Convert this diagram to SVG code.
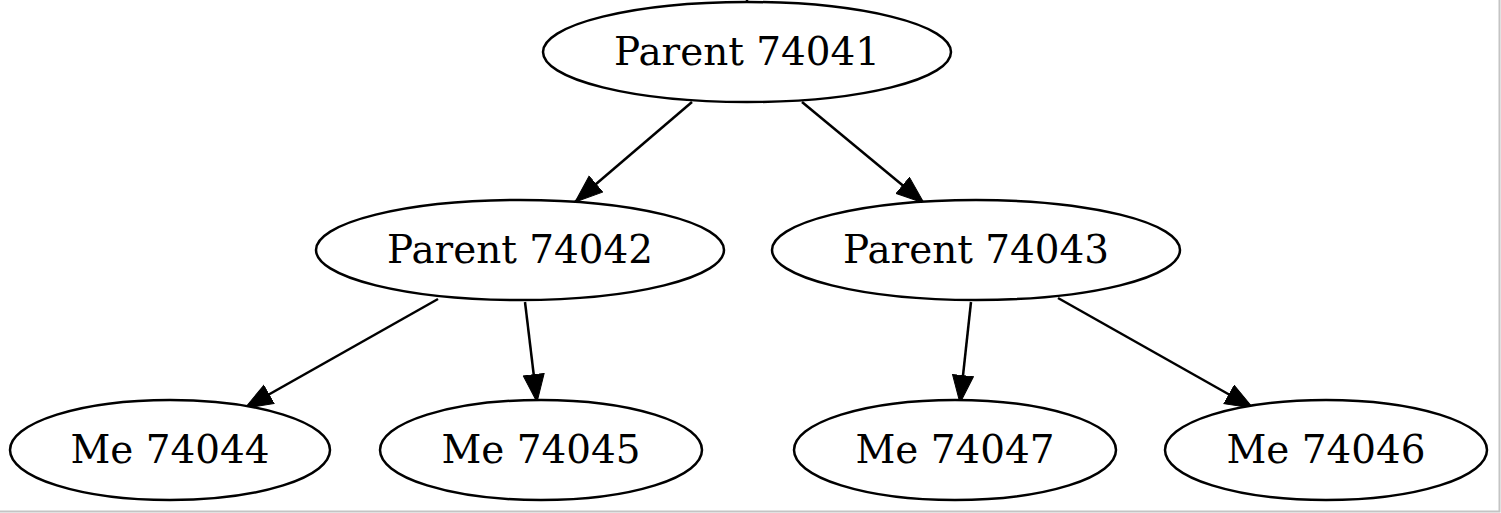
<svg xmlns="http://www.w3.org/2000/svg" width="1501" height="513" viewBox="0 0 1501 513">
<style>
.node ellipse{fill:#fff;stroke:#000;stroke-width:2.5}
.node text{font-family:"DejaVu Serif",serif;font-size:38.9px;text-anchor:middle;fill:#000}
.edge line{stroke:#000;stroke-width:2.5}
</style>
<defs>
<marker id="arr" markerUnits="userSpaceOnUse" markerWidth="30" markerHeight="24" refX="28" refY="11" orient="auto">
<polygon points="0.5,0.5 28,11 0.5,21.5" fill="#000" stroke="#000" stroke-width="1"/>
</marker>
</defs>
<rect x="0" y="0" width="1501" height="513" fill="#fff"/>
<path d="M0,511.5 H1499.5 V0" fill="none" stroke="#c4c4c4" stroke-width="2"/>
<g id="edges" class="edge">
<line x1="747" y1="0" x2="747" y2="4"/>
<line x1="692" y1="102" x2="575" y2="202" marker-end="url(#arr)"/>
<line x1="802" y1="102" x2="924" y2="203" marker-end="url(#arr)"/>
<line x1="438" y1="299" x2="245" y2="408" marker-end="url(#arr)"/>
<line x1="525" y1="302" x2="537" y2="402" marker-end="url(#arr)"/>
<line x1="971" y1="302" x2="960" y2="403" marker-end="url(#arr)"/>
<line x1="1058" y1="298" x2="1253" y2="408" marker-end="url(#arr)"/>
</g>
<g id="n74041" class="node"><ellipse cx="747" cy="52" rx="204" ry="50"/><text x="747" y="65">Parent 74041</text></g>
<g id="n74042" class="node"><ellipse cx="520" cy="250" rx="204" ry="50"/><text x="520" y="263">Parent 74042</text></g>
<g id="n74043" class="node"><ellipse cx="976" cy="250" rx="204" ry="50"/><text x="976" y="263">Parent 74043</text></g>
<g id="n74044" class="node"><ellipse cx="170" cy="450" rx="160" ry="50"/><text x="170" y="463">Me 74044</text></g>
<g id="n74045" class="node"><ellipse cx="541" cy="450" rx="161" ry="50"/><text x="541" y="463">Me 74045</text></g>
<g id="n74047" class="node"><ellipse cx="955" cy="450" rx="161" ry="50"/><text x="955" y="463">Me 74047</text></g>
<g id="n74046" class="node"><ellipse cx="1326" cy="450" rx="161" ry="50"/><text x="1326" y="463">Me 74046</text></g>
</svg>
